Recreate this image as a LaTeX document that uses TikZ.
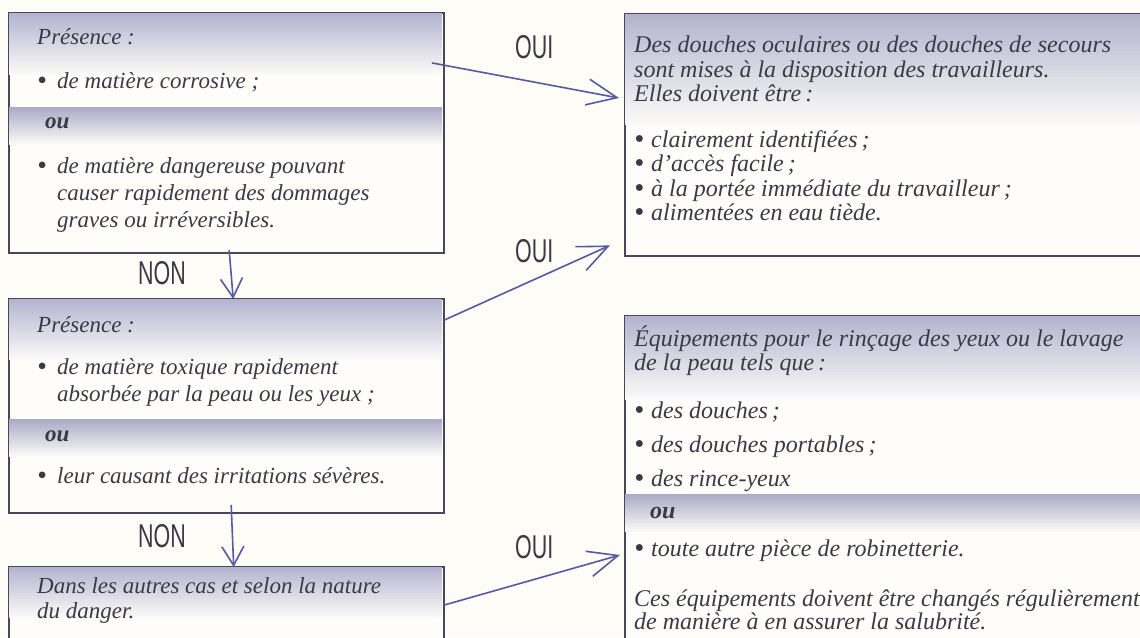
\documentclass[tikz,border=0pt]{standalone}
\usepackage{fontspec}
\setmainfont{Liberation Serif}
\newfontfamily\etiquette[FakeStretch=0.65]{Liberation Sans}
\usetikzlibrary{arrows.meta}

\definecolor{papier}{RGB}{253,252,247}
\definecolor{fondcadre}{RGB}{254,253,250}
\definecolor{lavande}{RGB}{180,180,208}
\definecolor{bande}{RGB}{170,170,198}
\definecolor{bord}{RGB}{70,70,92}
\definecolor{encre}{RGB}{58,58,70}
\definecolor{trait}{RGB}{86,90,160}

\newcommand{\gauche}{\fontsize{23}{26}\selectfont\itshape}
\newcommand{\droite}{\fontsize{24}{24}\selectfont\itshape}
\newcommand{\puceg}{\makebox[20pt][l]{\raisebox{-1.8pt}{\scalebox{1.2}{\textbullet}}}}
\newcommand{\puced}{\makebox[17pt][l]{\raisebox{-1.8pt}{\scalebox{1.2}{\textbullet}}}}
% degrade vertical : x1, y haut, x2, y bas, couleur
\newcommand{\degrade}[5]{%
  \foreach \k in {0,...,29}{%
    \pgfmathsetmacro\pc{100-3.3*\k}%
    \pgfmathsetmacro\ya{#2+(#4-#2)*\k/30}%
    \pgfmathsetmacro\yb{#2+(#4-#2)*(\k+1)/30+0.4}%
    \fill[#5!\pc!fondcadre] (#1,\ya) rectangle (#3,\yb);}}

\begin{document}
\begin{tikzpicture}[x=1pt,y=-1pt,
    cadre/.style={draw=bord,line width=2.4pt,fill=fondcadre,anchor=north west,inner sep=0pt},
    lg/.style={anchor=base west,inner sep=0pt,text=encre,font=\gauche},
    ld/.style={anchor=base west,inner sep=0pt,text=encre,font=\droite},
    etiq/.style={anchor=base west,inner sep=0pt,text=encre,font=\etiquette\fontsize{33}{33}\selectfont},
    fleche/.style={draw=trait,line width=1.6pt,line cap=round,-{Straight Barb[length=30pt,width=26pt]}},
    non/.style={draw=trait,line width=1.6pt,line cap=round,-{Straight Barb[length=19pt,width=22pt]}}]
  \useasboundingbox (0,0) rectangle (1140,637);
  \fill[papier] (0,0) rectangle (1140,637);

  % cadres
  \node[cadre,minimum width=435pt,minimum height=240pt] (q1) at (8,12) {};
  \node[cadre,minimum width=435pt,minimum height=214pt] (q2) at (8,298) {};
  \node[cadre,minimum width=435pt,minimum height=100pt] (q3) at (8,566) {};
  \node[cadre,minimum width=530pt,minimum height=242pt] (q4) at (624,13) {};
  \node[cadre,minimum width=530pt,minimum height=345pt] (q5) at (624,315) {};

  % degrades en haut des cadres
  \degrade{9.2}{13.2}{441.8}{75}{lavande}
  \degrade{9.2}{299.2}{441.8}{360}{lavande}
  \degrade{9.2}{567.2}{441.8}{618}{lavande}
  \degrade{625.2}{14.2}{1150}{125}{lavande}
  \degrade{625.2}{316.2}{1150}{400}{lavande}

  % bandeaux ou
  \degrade{9.2}{107}{441.8}{145}{bande}
  \degrade{9.2}{419}{441.8}{457}{bande}
  \degrade{625.2}{494}{1150}{532}{bande}

  % textes
  \node[lg] (a1) at (37,44) {Présence :};
  \node[lg] (a2) at (37,88) {\puceg de matière corrosive ;};
  \node[lg] (a3) at (45,128) {\bfseries ou};
  \node[lg] (a4) at (37,173) {\puceg de matière dangereuse pouvant};
  \node[lg] (a5) at (57,200) {causer rapidement des dommages};
  \node[lg] (a6) at (57,227) {graves ou irréversibles.};

  \node[lg] (b1) at (37,332) {Présence :};
  \node[lg] (b2) at (37,374) {\puceg de matière toxique rapidement};
  \node[lg] (b3) at (57,401) {absorbée par la peau ou les yeux ;};
  \node[lg] (b4) at (45,441) {\bfseries ou};
  \node[lg] (b5) at (37,483) {\puceg leur causant des irritations sévères.};

  \node[lg] (c1) at (37,593) {Dans les autres cas et selon la nature};
  \node[lg] (c2) at (37,618) {du danger.};

  \node[ld] (d1) at (634,52) {Des douches oculaires ou des douches de secours};
  \node[ld] (d2) at (634,77) {sont mises à la disposition des travailleurs.};
  \node[ld] (d3) at (634,101) {Elles doivent être\,:};
  \node[ld] (d4) at (634,147) {\puced clairement identifiées\,;};
  \node[ld] (d5) at (634,171) {\puced d’accès facile\,;};
  \node[ld] (d6) at (634,196) {\puced à la portée immédiate du travailleur\,;};
  \node[ld] (d7) at (634,220) {\puced alimentées en eau tiède.};

  \node[ld] (e1) at (634,346) {Équipements pour le rinçage des yeux ou le lavage};
  \node[ld] (e2) at (634,370) {de la peau tels que\,:};
  \node[ld] (e3) at (634,418) {\puced des douches\,;};
  \node[ld] (e4) at (634,452) {\puced des douches portables\,;};
  \node[ld] (e5) at (634,486) {\puced des rince-yeux};
  \node[ld] (e6) at (650,518) {\bfseries ou};
  \node[ld] (e7) at (634,556) {\puced toute autre pièce de robinetterie.};
  \node[ld] (e8) at (634,606) {Ces équipements doivent être changés régulièrement};
  \node[ld] (e9) at (634,629) {de manière à en assurer la salubrité.};

  % etiquettes
  \node[etiq] (oui1) at (515,58) {OUI};
  \node[etiq] (oui2) at (515,262) {OUI};
  \node[etiq] (oui3) at (515,558) {OUI};
  \node[etiq] (non1) at (138,284) {NON};
  \node[etiq] (non2) at (138,547) {NON};

  % fleches
  \coordinate (s1) at ([shift={(-13,51)}]q1.north east);
  \coordinate (t1) at ([shift={(-5,85)}]q4.north west);
  \coordinate (s2) at ([shift={(-1,22)}]q2.north east);
  \coordinate (t2) at ([shift={(-14,-12)}]q4.south west);
  \coordinate (s3) at ([shift={(-1,39)}]q3.north east);
  \coordinate (t3) at ([shift={(-4,240)}]q5.north west);
  \coordinate (m1) at ([shift={(2.5,-4)}]q1.south);
  \coordinate (n1) at ([shift={(6.5,1)}]q2.north);
  \coordinate (m2) at ([shift={(4.5,-9)}]q2.south);
  \coordinate (n2) at ([shift={(7,1)}]q3.north);
  \draw[fleche] (s1) -- (t1);
  \draw[fleche] (s2) -- (t2);
  \draw[fleche] (s3) -- (t3);
  \draw[non] (m1) -- (n1);
  \draw[non] (m2) -- (n2);
\end{tikzpicture}
\end{document}
